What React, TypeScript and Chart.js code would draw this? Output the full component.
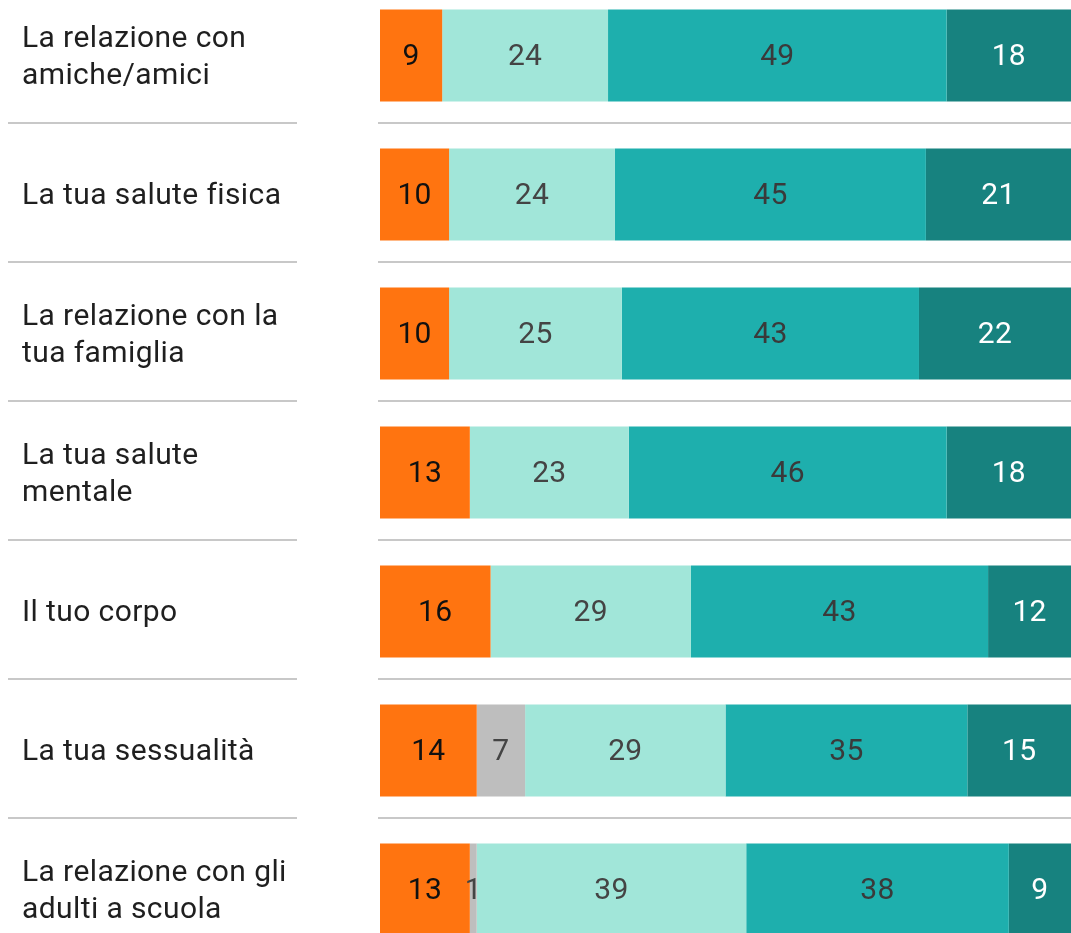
import React, { useEffect, useRef } from "react";
import { Chart, registerables } from "chart.js";

Chart.register(...registerables);

const categories: string[][] = [
  ["La relazione con", "amiche/amici"],
  ["La tua salute fisica"],
  ["La relazione con la", "tua famiglia"],
  ["La tua salute", "mentale"],
  ["Il tuo corpo"],
  ["La tua sessualità"],
  ["La relazione con gli", "adulti a scuola"],
];

const seriesNames = ["Negativo", "Non so", "Abbastanza", "Molto", "Moltissimo"];
const negativo = [9, 10, 10, 13, 16, 14, 13];
const nonSo = [0, 0, 0, 0, 0, 7, 1];
const abbastanza = [24, 24, 25, 23, 29, 29, 39];
const molto = [49, 45, 43, 46, 43, 35, 38];
const moltissimo = [18, 21, 22, 18, 12, 15, 9];

const seriesColors = ["#FF7410", "#BEBEBE", "#A1E6D9", "#1EAFAD", "#17827F"];
const labelColors = ["#111111", "#444444", "#444444", "#3a3a3a", "#ffffff"];

const FONT = "Roboto, 'Noto Sans', sans-serif";

const overlayPlugin = {
  id: "overlay",
  afterDatasetsDraw(chart: any) {
    const ctx = chart.ctx;
    const yScale = chart.scales.y;
    const n = categories.length;
    const pitch = n > 1 ? yScale.getPixelForValue(1) - yScale.getPixelForValue(0) : 139;
    ctx.save();
    // value labels
    ctx.font = `400 30px ${FONT}`;
    try { (ctx as any).letterSpacing = "0.3px"; } catch (e) {}
    ctx.textAlign = "center";
    ctx.textBaseline = "middle";
    chart.data.datasets.forEach((ds: any, di: number) => {
      const meta = chart.getDatasetMeta(di);
      meta.data.forEach((bar: any, i: number) => {
        const v = ds.data[i];
        if (!v) return;
        const cx = (bar.x + bar.base) / 2;
        ctx.fillStyle = labelColors[di];
        ctx.fillText(String(v), cx, bar.y + 2);
      });
    });
    // category labels
    ctx.textAlign = "left";
    ctx.fillStyle = "#1f1f1f";
    try { (ctx as any).letterSpacing = "0.4px"; } catch (e) {}
    categories.forEach((lines, i) => {
      const cy = yScale.getPixelForValue(i);
      const lh = 37;
      const start = cy - ((lines.length - 1) * lh) / 2;
      lines.forEach((t, k) => ctx.fillText(t, 22, start + k * lh + 2));
    });
    try { (ctx as any).letterSpacing = "0px"; } catch (e) {}
    // separators
    ctx.strokeStyle = "#C8C8C8";
    ctx.lineWidth = 2;
    for (let i = 0; i < n - 1; i++) {
      const y = Math.round(yScale.getPixelForValue(i) + pitch * 0.483);
      ctx.beginPath();
      ctx.moveTo(8, y);
      ctx.lineTo(297, y);
      ctx.moveTo(378, y);
      ctx.lineTo(1071, y);
      ctx.stroke();
    }
    ctx.restore();
  },
};

export default function App() {
  const ref = useRef<HTMLCanvasElement | null>(null);
  useEffect(() => {
    if (!ref.current) return;
    const values = [negativo, nonSo, abbastanza, molto, moltissimo];
    const chart = new Chart(ref.current, {
      type: "bar",
      data: {
        labels: categories.map((c) => c.join(" ")),
        datasets: values.map((d, i) => ({
          label: seriesNames[i],
          data: d,
          backgroundColor: seriesColors[i],
          borderWidth: 0,
          categoryPercentage: 1,
          barPercentage: 0.662,
        })),
      },
      options: {
        indexAxis: "y",
        responsive: false,
        animation: false,
        devicePixelRatio: 1,
        layout: { padding: { left: 380, right: 0, top: 0, bottom: 0 } },
        plugins: { legend: { display: false }, tooltip: { enabled: false } },
        scales: {
          x: { stacked: true, min: 0, max: 100, display: false },
          y: { stacked: true, display: false },
        },
      },
      plugins: [overlayPlugin],
    } as any);
    return () => chart.destroy();
  }, []);
  return (
    <div style={{ position: "fixed", left: 0, top: 0, width: 1071, height: 933, overflow: "hidden", background: "#fff" }}>
      <canvas ref={ref} width={1071} height={973} style={{ position: "absolute", left: 0, top: -14, width: 1071, height: 973 }} />
    </div>
  );
}
